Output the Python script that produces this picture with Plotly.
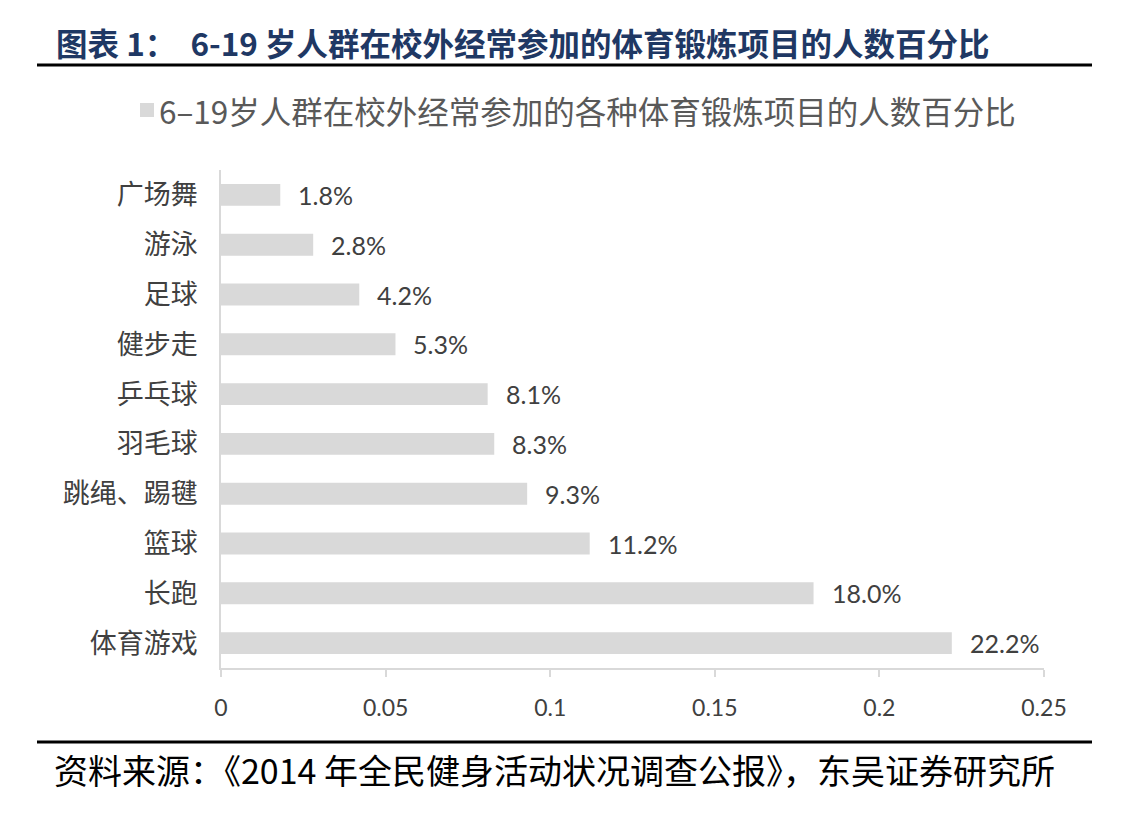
import plotly.graph_objects as go

categories = ["广场舞", "游泳", "足球", "健步走", "乒乓球", "羽毛球", "跳绳、踢毽", "篮球", "长跑", "体育游戏"]
values = [0.018, 0.028, 0.042, 0.053, 0.081, 0.083, 0.093, 0.112, 0.180, 0.222]
value_labels = ["1.8%", "2.8%", "4.2%", "5.3%", "8.1%", "8.3%", "9.3%", "11.2%", "18.0%", "22.2%"]
tick_vals = [0, 0.05, 0.1, 0.15, 0.2, 0.25]
tick_text = ["0", "0.05", "0.1", "0.15", "0.2", "0.25"]
series_name = "6–19岁人群在校外经常参加的各种体育锻炼项目的人数百分比"
title_text = "图表 1：  6-19 岁人群在校外经常参加的体育锻炼项目的人数百分比"
source_text = "资料来源：《2014 年全民健身活动状况调查公报》，东吴证券研究所"

W, H = 1144, 836
L, R, T, B = 213, 108, 162, 176
PW, PH = W - L - R, H - T - B
OFF = 8  # page body margin


def px_x(sx):
    return (sx - OFF - L) / PW


def px_y(sy):
    return (H - B - (sy - OFF)) / PH


fig = go.Figure()
fig.add_trace(go.Bar(
    y=categories, x=values, orientation="h", name=series_name,
    marker=dict(color="#d9d9d9", line=dict(width=0)),
    showlegend=False, hoverinfo="x+y",
))

for c, v, t in zip(categories, values, value_labels):
    fig.add_annotation(x=v, y=c, text=t, xanchor="left", yanchor="middle",
                       xshift=16, showarrow=False,
                       font=dict(family="Lato, Open Sans, sans-serif", size=25, color="#404040"))

fig.update_layout(
    width=W, height=H,
    paper_bgcolor="white", plot_bgcolor="white",
    margin=dict(l=L, r=R, t=T, b=B),
    bargap=0.56,
    showlegend=False,
    xaxis=dict(
        range=[0, 0.25], tickvals=tick_vals, ticktext=tick_text,
        showgrid=False, zeroline=False,
        showline=True, linecolor="#d9d9d9", linewidth=1.5,
        ticks="outside", ticklen=7, tickcolor="#d9d9d9", tickwidth=1.5,
        tickfont=dict(family="Lato, Open Sans, sans-serif", size=23, color="#404040"),
        ticklabelstandoff=12,
    ),
    yaxis=dict(
        autorange="reversed", showgrid=False, zeroline=False,
        showline=True, linecolor="#d9d9d9", linewidth=1.5,
        ticks="", ticklabelstandoff=16,
        tickfont=dict(family="Noto Sans CJK SC, sans-serif", size=27, color="#404040"),
    ),
    font=dict(family="Noto Sans CJK SC, sans-serif"),
)

# title and lines
fig.add_annotation(text="<b>" + title_text + "</b>", xref="paper", yref="paper",
                   x=px_x(54), y=px_y(42), xanchor="left", yanchor="middle",
                   showarrow=False, font=dict(family="Noto Sans CJK SC, sans-serif", size=31.5, color="#1f3864"))
fig.add_shape(type="line", xref="paper", yref="paper",
              x0=px_x(37), x1=px_x(1092), y0=px_y(65), y1=px_y(65),
              line=dict(color="black", width=3))
fig.add_shape(type="line", xref="paper", yref="paper",
              x0=px_x(37), x1=px_x(1092), y0=px_y(742), y1=px_y(742),
              line=dict(color="black", width=3))
# legend
fig.add_shape(type="rect", xref="paper", yref="paper",
              x0=px_x(140), x1=px_x(154), y0=px_y(117), y1=px_y(103),
              fillcolor="#d9d9d9", line=dict(width=0))
fig.add_annotation(text=series_name, xref="paper", yref="paper",
                   x=px_x(157), y=px_y(110), xanchor="left", yanchor="middle",
                   showarrow=False, font=dict(family="Noto Sans CJK SC, sans-serif", size=31.5, color="#595959"))
fig.add_annotation(text=source_text, xref="paper", yref="paper",
                   x=px_x(52), y=px_y(770), xanchor="left", yanchor="middle",
                   showarrow=False, font=dict(family="Noto Sans CJK SC, sans-serif", size=34, color="black"))

fig.write_html("out.html")
